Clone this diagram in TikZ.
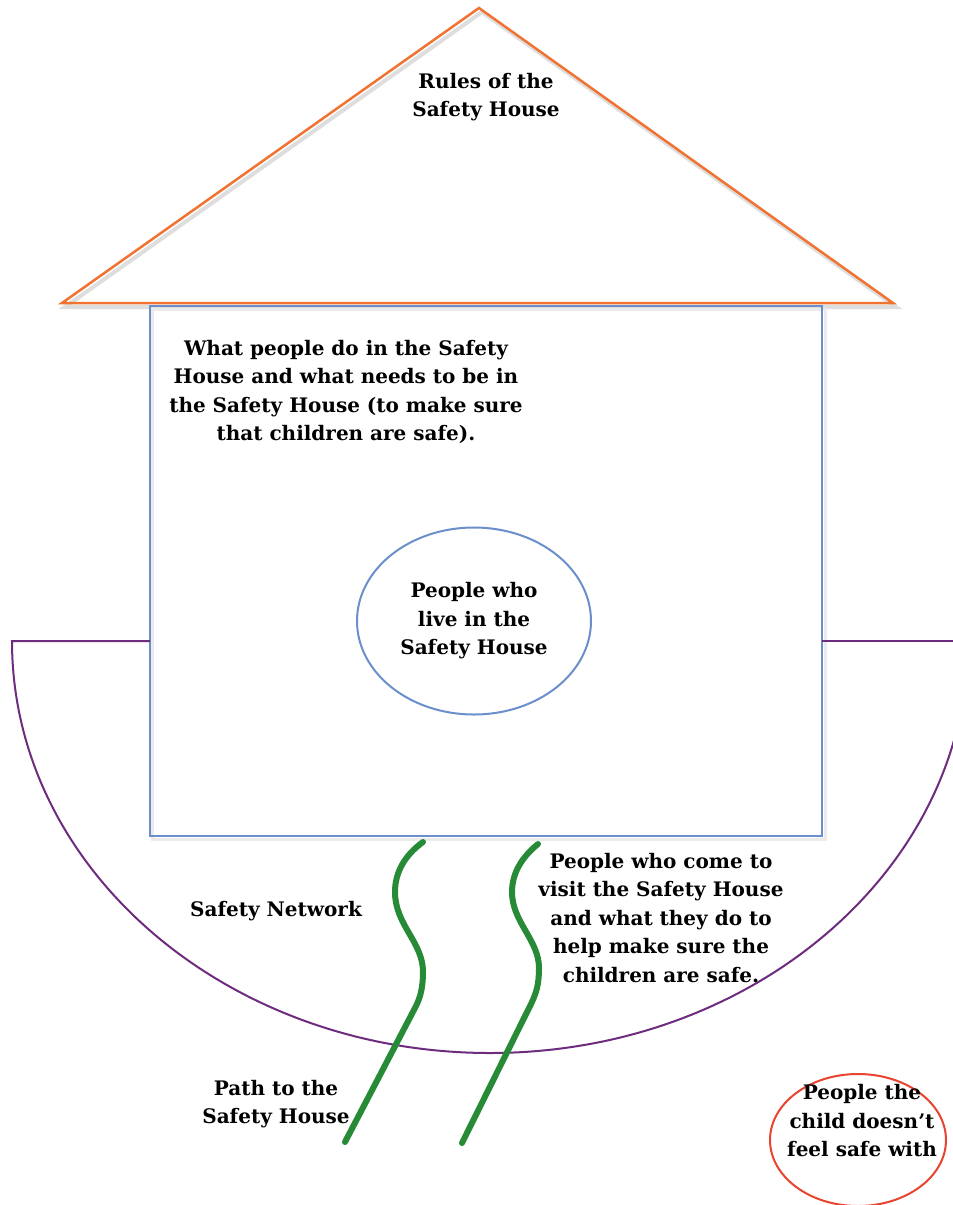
\documentclass[tikz,border=0pt]{standalone}
\usepackage{fontspec}
\setmainfont{DejaVu Serif}
\usetikzlibrary{shapes.geometric}
\definecolor{roofc}{HTML}{F07332}
\definecolor{wallc}{HTML}{6A8FCB}
\definecolor{netc}{HTML}{6E2C7E}
\definecolor{pathc}{HTML}{268A37}
\definecolor{dangerc}{HTML}{E8442F}
\begin{document}
\begin{tikzpicture}[x=1pt,y=-1pt,
  lbl/.style={font=\bfseries\fontsize{20}{28.5}\selectfont, align=center, inner sep=0pt, text=black},
  shadowline/.style={black!13, line width=4pt, line join=miter},
  greenpath/.style={pathc, line width=6pt, line cap=round}]
\useasboundingbox (0,0) rectangle (953,1205);
\fill[white] (0,0) rectangle (953,1205);
% shadows
\draw[shadowline] ([shift={(3,4)}]62,303) -- ([shift={(3,4)}]479,8) -- ([shift={(3,4)}]893,303) -- cycle;
\draw[black!8, line width=3pt] (152,309) rectangle (825,839);
% house body
\draw[wallc, line width=2pt] (150,306) rectangle (822,836);
% roof
\draw[roofc, line width=2.5pt, line join=miter] (62,303) -- (479,8) -- (893,303) -- cycle;
% safety network arc
\draw[netc, line width=2pt] (150,641) -- (12,641) arc[start angle=180, end angle=0, x radius=478, y radius=412];
\draw[netc, line width=2pt] (822,641) -- (953,641);
% inner ellipse
\node[ellipse, draw=wallc, line width=2pt, minimum width=234pt, minimum height=187pt, lbl] (live) at (474,621) {People who\\live in the\\Safety House};
% danger ellipse
\node[ellipse, draw=dangerc, line width=2pt, minimum width=176pt, minimum height=132pt] (unsafe) at (858,1140) {};
\node[lbl] (unsafetxt) at (862,1121) {People the\\child doesn’t\\feel safe with};
% paths
\draw[greenpath] (423,842) .. controls (405,855) and (395,872) .. (395,892)
  .. controls (395,925) and (423,942) .. (423,972)
  .. controls (423,988) and (420,998) .. (416,1006) -- (345,1142);
\draw[greenpath] (538,844) .. controls (522,857) and (512,873) .. (512,892)
  .. controls (512,922) and (539,940) .. (539,968)
  .. controls (539,985) and (536,993) .. (532,1002) -- (462,1143);
% labels
\node[lbl] (rules) at (486,97) {Rules of the\\Safety House};
\node[lbl] (todo) at (346,392) {What people do in the Safety\\House and what needs to be in\\the Safety House (to make sure\\that children are safe).};
\node[lbl] (network) at (276,911) {Safety Network};
\node[lbl] (visitors) at (661,918) {People who come to\\visit the Safety House\\and what they do to\\help make sure the\\children are safe.};
\node[lbl] (pathtxt) at (276,1104) {Path to the\\Safety House};
\end{tikzpicture}
\end{document}
